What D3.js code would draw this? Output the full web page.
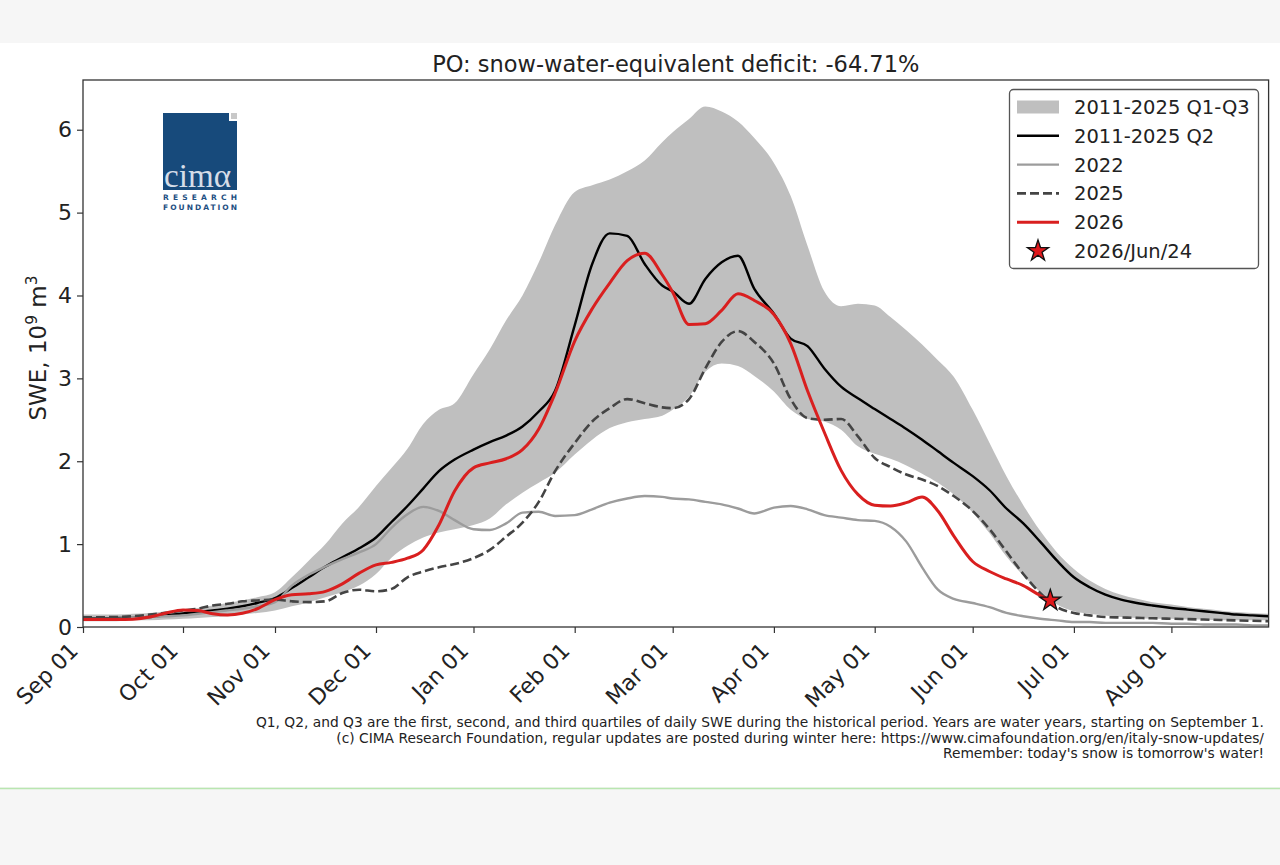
<!DOCTYPE html>
<html>
<head>
<meta charset="utf-8">
<script src="https://cdn.jsdelivr.net/npm/d3@7"></script>
<style>
  body { margin: 0; background: #f6f6f6; }
  svg { display: block; font-family: "DejaVu Sans", sans-serif; }
</style>
</head>
<body>
<div class="stage"></div>
<script>
// ---- data ----
var months = ["2025-09", "2025-10", "2025-11", "2025-12", "2026-01", "2026-02",
              "2026-03", "2026-04", "2026-05", "2026-06", "2026-07", "2026-08"];
var gridDays = [1, 6, 11, 16, 21, 26];
var lastDay = "2026-08-31";
var tickLabels = ["Sep 01", "Oct 01", "Nov 01", "Dec 01", "Jan 01", "Feb 01",
                  "Mar 01", "Apr 01", "May 01", "Jun 01", "Jul 01", "Aug 01"];
var yTicks = [0, 1, 2, 3, 4, 5, 6];

// 2011-2025 first quartile
var q1 = [0.07, 0.07, 0.07, 0.08, 0.08, 0.09,
          0.10, 0.11, 0.12, 0.13, 0.15, 0.17,
          0.20, 0.25, 0.30, 0.36, 0.42, 0.50,
          0.64, 0.84, 0.98, 1.08, 1.14, 1.18,
          1.23, 1.31, 1.48, 1.62, 1.74, 1.86,
          2.08, 2.26, 2.40, 2.47, 2.51, 2.55,
          2.62, 2.78, 3.08, 3.18, 3.15, 3.03,
          2.84, 2.62, 2.51, 2.48, 2.38, 2.18,
          2.09, 2.03, 1.95, 1.85, 1.74, 1.60,
          1.38, 1.13, 0.85, 0.62, 0.42, 0.27,
          0.19, 0.16, 0.14, 0.12, 0.11, 0.10,
          0.10, 0.09, 0.09, 0.08, 0.08, 0.08, 0.08];
// 2011-2025 median
var q2 = [0.105, 0.105, 0.11, 0.11, 0.12, 0.14,
          0.165, 0.18, 0.20, 0.22, 0.25, 0.29,
          0.35, 0.47, 0.60, 0.73, 0.84, 0.95,
          1.08, 1.27, 1.46, 1.67, 1.88, 2.02,
          2.14, 2.23, 2.31, 2.42, 2.60, 2.85,
          3.64, 4.38, 4.75, 4.72, 4.38, 4.12,
          4.05, 3.90, 4.20, 4.40, 4.48, 4.08,
          3.78, 3.48, 3.39, 3.12, 2.90, 2.76,
          2.63, 2.51, 2.39, 2.26, 2.12, 1.98,
          1.82, 1.65, 1.43, 1.25, 1.03, 0.80,
          0.60, 0.48, 0.39, 0.33, 0.29, 0.26,
          0.23, 0.21, 0.19, 0.17, 0.15, 0.14, 0.13];
// 2011-2025 third quartile
var q3 = [0.15, 0.15, 0.15, 0.16, 0.17, 0.19,
          0.21, 0.23, 0.26, 0.29, 0.32, 0.36,
          0.42, 0.60, 0.80, 1.00, 1.25, 1.45,
          1.70, 1.92, 2.15, 2.45, 2.62, 2.70,
          3.05, 3.35, 3.70, 4.00, 4.40, 4.85,
          5.25, 5.33, 5.40, 5.50, 5.63, 5.85,
          5.97, 6.13, 6.28, 6.22, 6.10, 5.90,
          5.60, 5.20, 4.60, 4.05, 3.87, 3.90,
          3.88, 3.74, 3.58, 3.41, 3.22, 3.02,
          2.62, 2.22, 1.82, 1.47, 1.16, 0.90,
          0.70, 0.56, 0.46, 0.39, 0.34, 0.30,
          0.27, 0.24, 0.22, 0.20, 0.18, 0.17, 0.16];
var y2022 = [0.10, 0.10, 0.10, 0.11, 0.12, 0.13,
             0.14, 0.16, 0.18, 0.20, 0.22, 0.25,
             0.30, 0.50, 0.63, 0.73, 0.82, 0.90,
             1.00, 1.20, 1.36, 1.45, 1.40, 1.29,
             1.18, 1.17, 1.25, 1.38, 1.39, 1.34,
             1.35, 1.42, 1.50, 1.55, 1.58, 1.57,
             1.55, 1.54, 1.51, 1.48, 1.43, 1.37,
             1.44, 1.46, 1.42, 1.35, 1.32, 1.29,
             1.28, 1.21, 1.03, 0.72, 0.45, 0.34,
             0.29, 0.24, 0.17, 0.13, 0.10, 0.08,
             0.06, 0.06, 0.05, 0.05, 0.05, 0.05,
             0.04, 0.04, 0.03, 0.03, 0.03, 0.02, 0.02];
var y2025 = [0.117, 0.118, 0.12, 0.13, 0.15, 0.17,
             0.20, 0.22, 0.26, 0.28, 0.31, 0.32,
             0.33, 0.31, 0.30, 0.31, 0.41, 0.45,
             0.43, 0.46, 0.60, 0.67, 0.72, 0.76,
             0.83, 0.93, 1.09, 1.26, 1.51, 1.88,
             2.22, 2.48, 2.64, 2.75, 2.70, 2.65,
             2.64, 2.75, 3.12, 3.44, 3.57, 3.44,
             3.18, 2.75, 2.52, 2.50, 2.51, 2.30,
             2.04, 1.93, 1.84, 1.78, 1.70, 1.58,
             1.40, 1.18, 0.91, 0.64, 0.41, 0.24,
             0.17, 0.14, 0.12, 0.115, 0.11, 0.105,
             0.10, 0.095, 0.09, 0.085, 0.08, 0.075, 0.07];
// current year stops at the last update
var y2026 = [0.09, 0.09, 0.09, 0.095, 0.12, 0.17,
             0.205, 0.20, 0.16, 0.145, 0.165, 0.22,
             0.33, 0.39, 0.40, 0.43, 0.52, 0.65,
             0.75, 0.78, 0.83, 0.93, 1.23, 1.64,
             1.92, 1.98, 2.03, 2.14, 2.39, 2.82,
             3.45, 3.84, 4.15, 4.42, 4.51, 4.25,
             4.04, 3.65, 3.66, 3.82, 4.02, 3.94,
             3.77, 3.42, 2.85, 2.35, 1.89, 1.60,
             1.47, 1.46, 1.50, 1.57, 1.40, 1.10,
             0.79, 0.67, 0.58, 0.50, 0.38];
var todayDate = "2026-06-24";
var todayValue = 0.32;

// ---- layout ----
var width = 1280, height = 865;
var plotL = 83, plotR = 1268.6, plotT = 80, plotB = 627;
// pixel position of each month start (the picture does not space them by day count)
var monthX = [83, 183, 275, 376, 473.5, 574.7, 672.7, 773.9, 874.7, 972.7, 1073.9, 1171.4, 1268.6];

var parseDay = d3.timeParse("%Y-%m-%d");
var pad = d3.format("02");

var monthStarts = months.map(function(m) { return parseDay(m + "-01"); });
var dates = [];
months.forEach(function(m) {
  gridDays.forEach(function(d) { dates.push(parseDay(m + "-" + pad(d))); });
});
dates.push(parseDay(lastDay));

var x = d3.scaleTime()
  .domain(monthStarts.concat([parseDay(lastDay)]))
  .range(monthX);
var y = d3.scaleLinear().domain([0, 6.6]).range([plotB, plotT]);

var rows = dates.map(function(d, i) {
  return {date: d, q1: q1[i], q2: q2[i], q3: q3[i], a: y2022[i], b: y2025[i]};
});
var rows2026 = y2026.map(function(v, i) { return {date: dates[i], v: v}; });
rows2026.push({date: parseDay(todayDate), v: todayValue});

// CONTAINER
var svg = d3.select('.stage')
  .append('svg')
  .attr('width', width)
  .attr('height', height);

svg.append('rect').attr('x', 0).attr('y', 0).attr('width', width).attr('height', height).attr('fill', '#f6f6f6');
svg.append('rect').attr('x', 0).attr('y', 43).attr('width', width).attr('height', 744).attr('fill', '#ffffff');
svg.append('line').attr('x1', 0).attr('x2', width).attr('y1', 788.5).attr('y2', 788.5)
  .attr('stroke', '#b9e6b0').attr('stroke-width', 1.5);

svg.append('clipPath').attr('id', 'plotclip')
  .append('rect').attr('x', plotL).attr('y', plotT).attr('width', plotR - plotL).attr('height', plotB - plotT);

var plot = svg.append('g').attr('clip-path', 'url(#plotclip)');

// quartile band
plot.append('path')
  .datum(rows)
  .attr('fill', '#bfbfbf')
  .attr('d', d3.area()
    .x(function(d) { return x(d.date); })
    .y0(function(d) { return y(d.q1); })
    .y1(function(d) { return y(d.q3); })
    .curve(d3.curveMonotoneX));

var lineOf = function(key) {
  return d3.line()
    .x(function(d) { return x(d.date); })
    .y(function(d) { return y(d[key]); })
    .curve(d3.curveMonotoneX);
};

plot.append('path').datum(rows).attr('d', lineOf('q2'))
  .attr('fill', 'none').attr('stroke', '#000').attr('stroke-width', 2.4);
plot.append('path').datum(rows).attr('d', lineOf('a'))
  .attr('fill', 'none').attr('stroke', '#9c9c9c').attr('stroke-width', 2.4);
plot.append('path').datum(rows).attr('d', lineOf('b'))
  .attr('fill', 'none').attr('stroke', '#444').attr('stroke-width', 2.6)
  .attr('stroke-dasharray', '9,4');
plot.append('path').datum(rows2026).attr('d', lineOf('v'))
  .attr('fill', 'none').attr('stroke', '#d91f1f').attr('stroke-width', 3);

var star = d3.symbol().type(d3.symbolStar).size(140);
svg.append('path')
  .attr('d', star())
  .attr('transform', 'translate(' + x(parseDay(todayDate)) + ',' + y(todayValue) + ')')
  .attr('fill', '#e0181c').attr('stroke', '#111').attr('stroke-width', 1.3);

// frame
svg.append('rect').attr('x', plotL).attr('y', plotT).attr('width', plotR - plotL).attr('height', plotB - plotT)
  .attr('fill', 'none').attr('stroke', '#333').attr('stroke-width', 1.3);

// AXES
var yAxis = svg.append('g')
  .attr('transform', 'translate(' + plotL + ',0)')
  .call(d3.axisLeft(y).tickValues(yTicks).tickSize(6).tickPadding(5).tickFormat(d3.format('d')));
yAxis.select('.domain').remove();
yAxis.selectAll('line').attr('stroke', '#333').attr('stroke-width', 1.2);
yAxis.selectAll('text').attr('font-size', 22).attr('fill', '#222').attr('font-family', 'DejaVu Sans');

var xAxis = svg.append('g')
  .attr('transform', 'translate(0,' + plotB + ')')
  .call(d3.axisBottom(x).tickValues(monthStarts).tickSize(6)
    .tickFormat(function(d, i) { return tickLabels[i]; }));
xAxis.select('.domain').remove();
xAxis.selectAll('line').attr('stroke', '#333').attr('stroke-width', 1.2);
xAxis.selectAll('text')
  .attr('font-size', 22).attr('fill', '#222').attr('font-family', 'DejaVu Sans')
  .attr('text-anchor', 'end')
  .attr('y', 0).attr('dy', 0)
  .attr('transform', 'translate(-4,25) rotate(-45)');

// y label
var ylab = svg.append('text')
  .attr('transform', 'translate(46,348) rotate(-90)')
  .attr('text-anchor', 'middle')
  .attr('font-size', 23).attr('fill', '#222');
ylab.append('tspan').text('SWE, 10');
ylab.append('tspan').attr('font-size', 15.5).attr('dy', -9).text('9');
ylab.append('tspan').attr('dy', 9).text(' m');
ylab.append('tspan').attr('font-size', 15.5).attr('dy', -9).text('3');

// title
svg.append('text')
  .attr('x', (plotL + plotR) / 2).attr('y', 72)
  .attr('text-anchor', 'middle')
  .attr('font-size', 22.5).attr('fill', '#222')
  .text('PO: snow-water-equivalent deficit: -64.71%');

// LOGO
var logo = svg.append('g');
logo.append('path')
  .attr('d', 'M163,113 H229 V121 H237 V190 H163 Z')
  .attr('fill', '#174a7b');
logo.append('rect').attr('x', 231).attr('y', 113).attr('width', 6).attr('height', 6).attr('fill', '#c8c8c8');
logo.append('text')
  .attr('x', 164).attr('y', 187)
  .attr('font-family', 'Liberation Serif, serif').attr('font-size', 34)
  .attr('textLength', 67).attr('lengthAdjust', 'spacingAndGlyphs')
  .attr('fill', '#d5dde8')
  .text('cim\u03b1');
logo.append('text')
  .attr('x', 163).attr('y', 200)
  .attr('font-size', 7.5).attr('font-weight', 'bold').attr('fill', '#1d4f82')
  .attr('textLength', 74).attr('lengthAdjust', 'spacing')
  .text('RESEARCH');
logo.append('text')
  .attr('x', 163).attr('y', 210)
  .attr('font-size', 7.5).attr('font-weight', 'bold').attr('fill', '#1d4f82')
  .attr('textLength', 74).attr('lengthAdjust', 'spacing')
  .text('FOUNDATION');

// LEGEND
var legendItems = ["2011-2025 Q1-Q3", "2011-2025 Q2", "2022", "2025", "2026", "2026/Jun/24"];
var legend = svg.append('g');
legend.append('rect')
  .attr('x', 1009.5).attr('y', 89.5).attr('width', 249).attr('height', 179).attr('rx', 4)
  .attr('fill', '#fff').attr('stroke', '#555').attr('stroke-width', 1.3);
var rowY = function(i) { return 107 + i * 28.8; };
legend.append('rect').attr('x', 1017).attr('y', rowY(0) - 6.5).attr('width', 42).attr('height', 13).attr('fill', '#bfbfbf');
legend.append('line').attr('x1', 1017).attr('x2', 1059).attr('y1', rowY(1)).attr('y2', rowY(1))
  .attr('stroke', '#000').attr('stroke-width', 2.4);
legend.append('line').attr('x1', 1017).attr('x2', 1059).attr('y1', rowY(2)).attr('y2', rowY(2))
  .attr('stroke', '#9c9c9c').attr('stroke-width', 2.4);
legend.append('line').attr('x1', 1017).attr('x2', 1059).attr('y1', rowY(3)).attr('y2', rowY(3))
  .attr('stroke', '#444').attr('stroke-width', 2.6).attr('stroke-dasharray', '9,4');
legend.append('line').attr('x1', 1017).attr('x2', 1059).attr('y1', rowY(4)).attr('y2', rowY(4))
  .attr('stroke', '#d91f1f').attr('stroke-width', 3);
legend.append('path').attr('d', star())
  .attr('transform', 'translate(1038,' + rowY(5) + ')')
  .attr('fill', '#e0181c').attr('stroke', '#111').attr('stroke-width', 1.3);
legend.selectAll('text.item')
  .data(legendItems)
  .enter()
  .append('text')
  .attr('class', 'item')
  .attr('x', 1074)
  .attr('y', function(d, i) { return rowY(i) + 7; })
  .attr('font-size', 19.5).attr('fill', '#222')
  .text(function(d) { return d; });

// FOOTNOTE
var notes = [
  "Q1, Q2, and Q3 are the first, second, and third quartiles of daily SWE during the historical period. Years are water years, starting on September 1.",
  "(c) CIMA Research Foundation, regular updates are posted during winter here: https://www.cimafoundation.org/en/italy-snow-updates/",
  "Remember: today's snow is tomorrow's water!"
];
svg.selectAll('text.note')
  .data(notes)
  .enter()
  .append('text')
  .attr('class', 'note')
  .attr('x', 1264)
  .attr('y', function(d, i) { return 727 + i * 15.5; })
  .attr('text-anchor', 'end')
  .attr('font-size', 13.8).attr('fill', '#222')
  .text(function(d) { return d; });
</script>
</body>
</html>
